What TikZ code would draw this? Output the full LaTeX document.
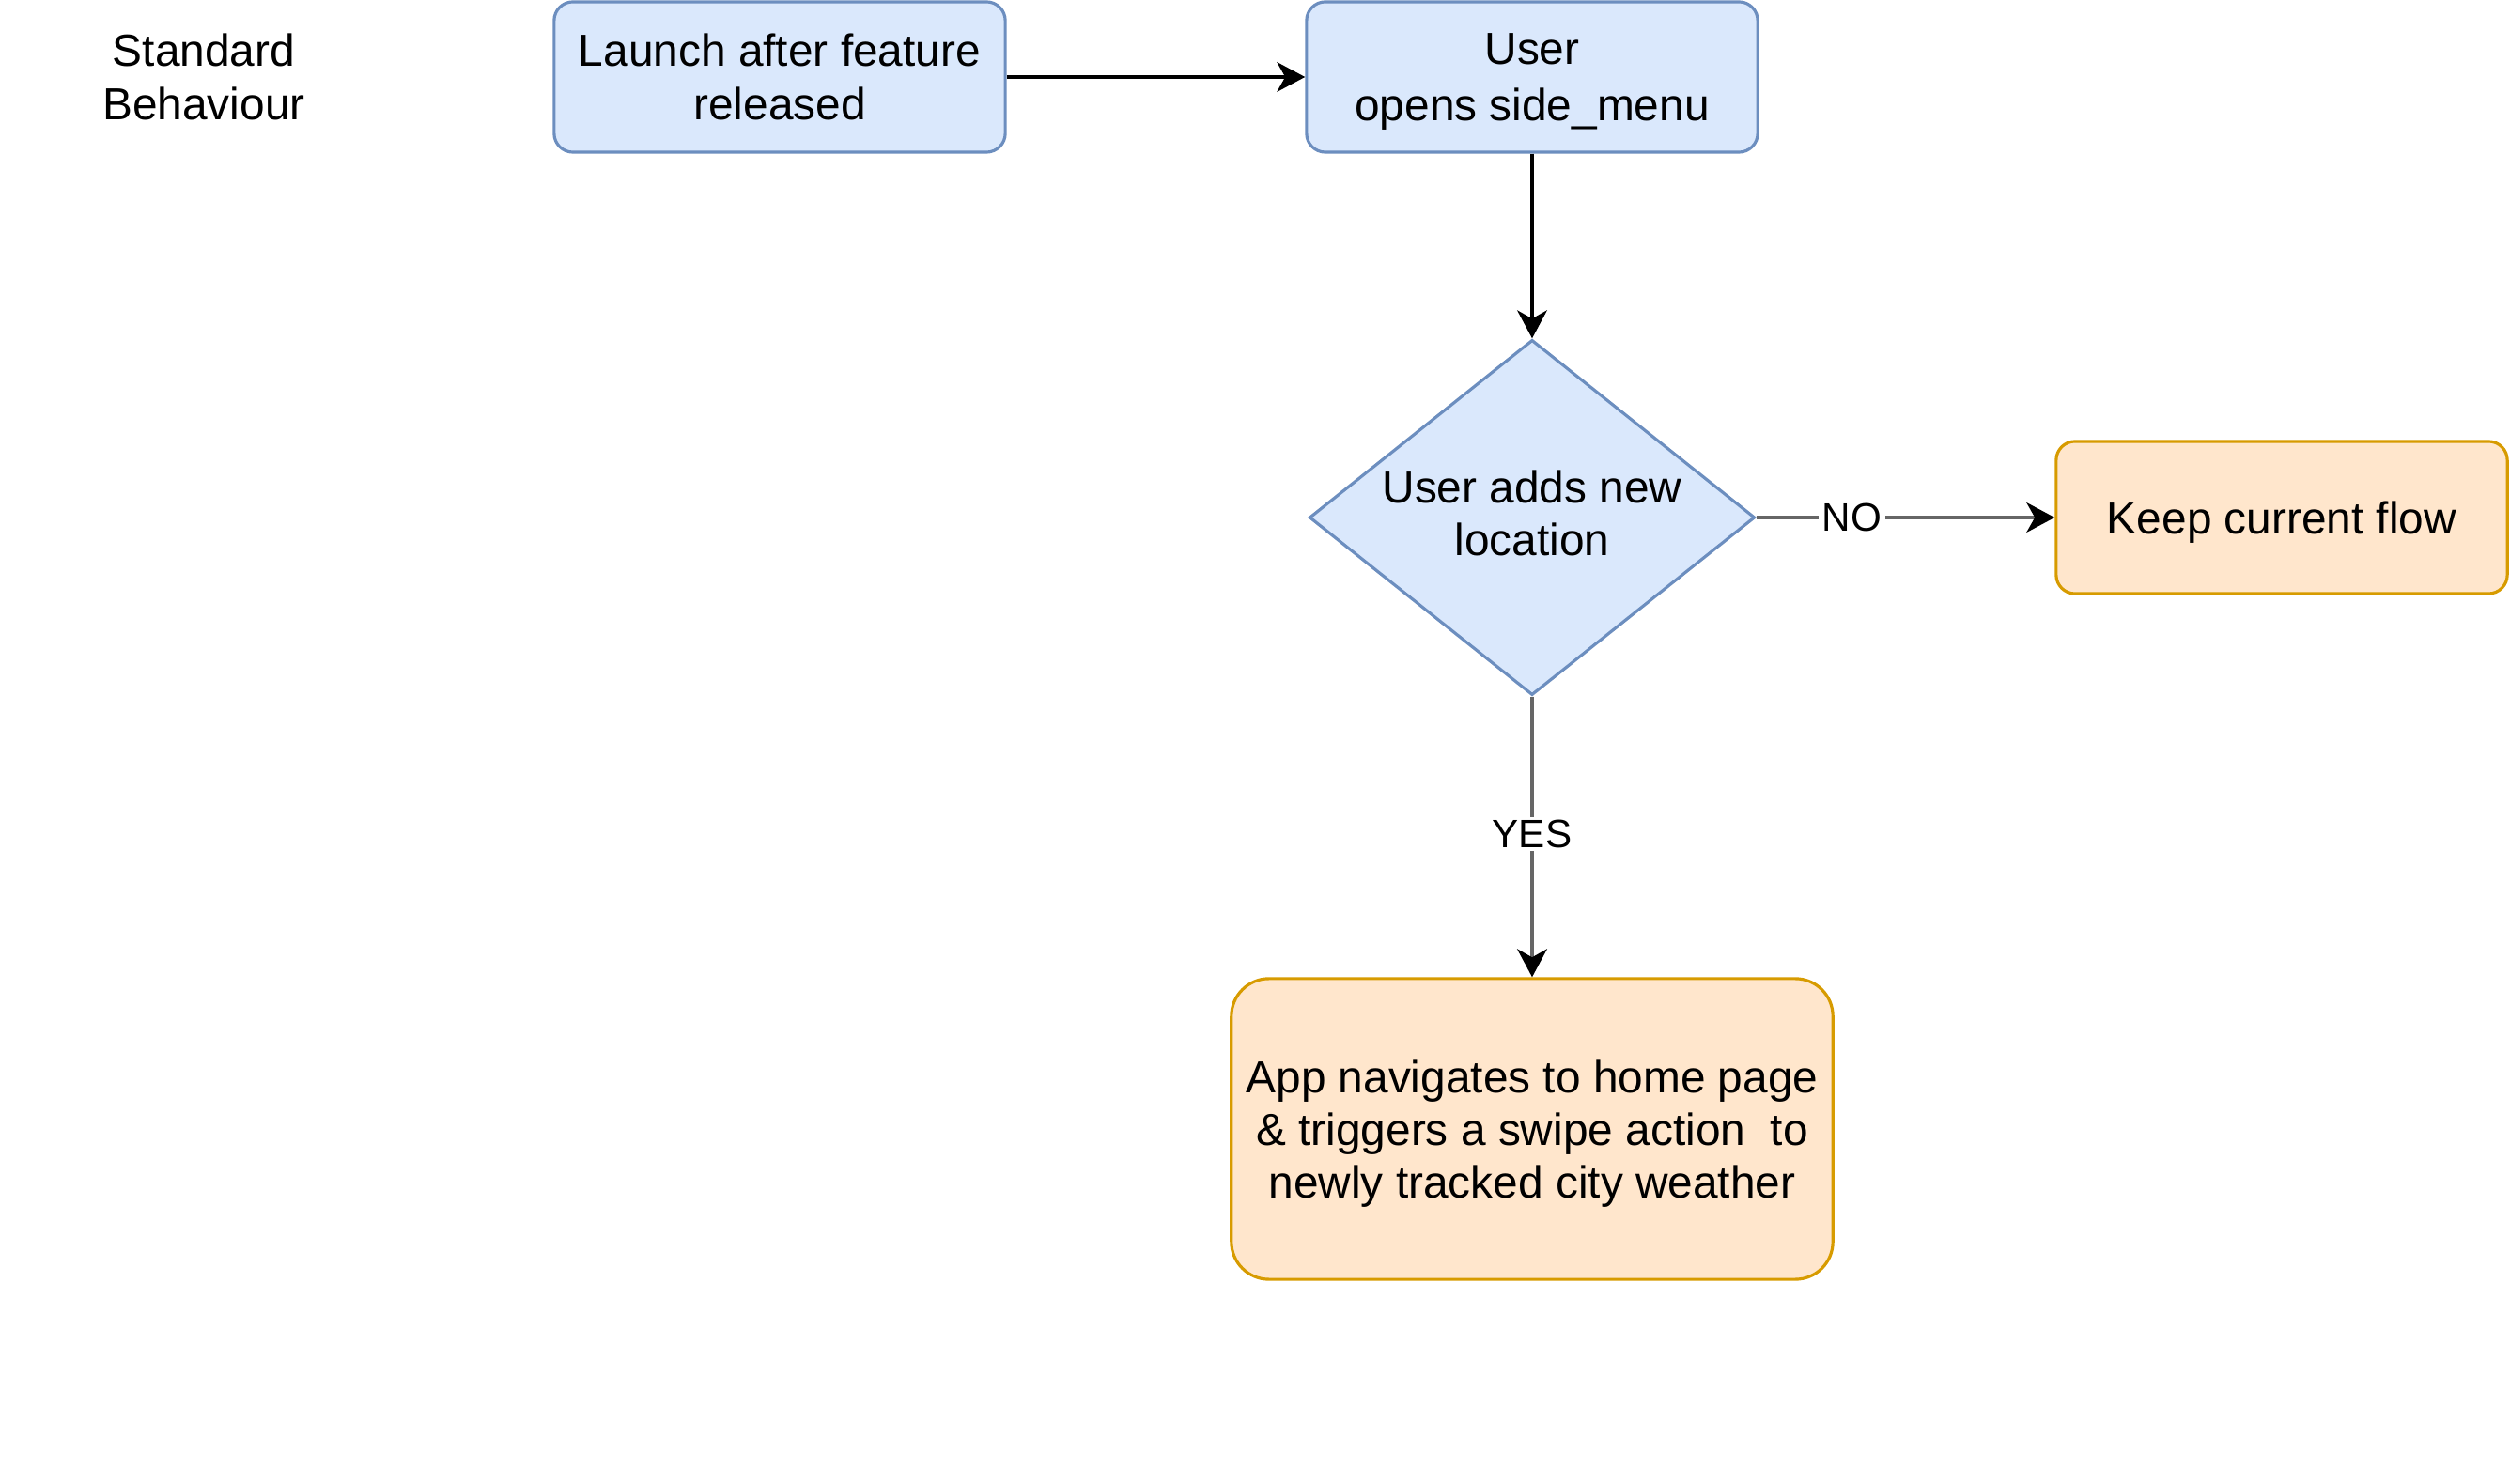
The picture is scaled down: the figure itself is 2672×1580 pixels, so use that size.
\documentclass[tikz,border=0pt]{standalone}
\usepackage{fontspec}
\setmainfont{Liberation Sans}
\usetikzlibrary{shapes.geometric,arrows.meta}
\definecolor{bfill}{HTML}{DAE8FC}
\definecolor{bdraw}{HTML}{6C8EBF}
\definecolor{ofill}{HTML}{FFE6CC}
\definecolor{odraw}{HTML}{D79B00}
\definecolor{edgegray}{HTML}{666666}
\begin{document}
\begin{tikzpicture}[x=0.01cm,y=-0.01cm,
  txt/.style={align=center, font=\fontsize{13.6}{16}\selectfont, inner sep=0pt},
  bluebox/.style={txt, rectangle, rounded corners=0.2cm, draw=bdraw, fill=bfill, line width=0.9pt, minimum width=4.8cm, minimum height=1.6cm},
  orangebox/.style={txt, rectangle, rounded corners=0.2cm, draw=odraw, fill=ofill, line width=0.9pt, minimum width=4.8cm, minimum height=1.62cm},
  decision/.style={txt, diamond, aspect=1.254, draw=bdraw, fill=bfill, line width=0.9pt, minimum width=4.74cm, minimum height=3.78cm},
  tip/.style={-{Stealth[length=8.5pt,width=9pt,inset=2.5pt,color=black]}},
  blackedge/.style={tip, draw=black, line width=1pt},
  grayedge/.style={tip, draw=edgegray, line width=1.2pt},
  elabel/.style={font=\fontsize{12}{14}\selectfont, fill=white, inner sep=1pt, text=black}
]
\useasboundingbox (0,0) rectangle (2672,1580);

\node[txt] (std) at (217,82) {Standard\\Behaviour};
\node[bluebox] (launch) at (830,82) {Launch after feature\\released};
\node[bluebox, font=\fontsize{13.6}{17}\selectfont, text depth=0pt] (user) at (1631,82) {User\\opens side\_menu};
\node[decision, text depth=0.1cm] (dec) at (1631,551) {User adds new\\location};
\node[orangebox, text depth=0pt] (keep) at (2429,551) {Keep current flow};
\node[orangebox, rounded corners=0.4cm, minimum width=6.4cm, minimum height=3.2cm, text depth=0pt] (app) at (1631,1202)
  {App navigates to home page\\\& triggers a swipe action\ \ to\\newly tracked city weather};

\draw[blackedge] (launch.east) -- (user.west);
\draw[blackedge] (user.south) -- (dec.north);
\draw[grayedge] (dec.east) -- node[elabel, pos=0.32] {NO} (keep.west);
\draw[grayedge] (dec.south) -- node[elabel, pos=0.49] {YES} (app.north);
\end{tikzpicture}
\end{document}
